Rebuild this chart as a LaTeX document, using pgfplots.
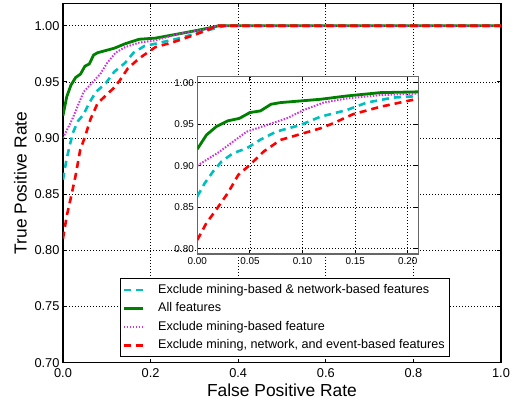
\documentclass[border=0pt]{standalone}
\usepackage{fontspec}
\setmainfont{Liberation Sans}
\usepackage{pgfplots}
\usepackage{pgfplotstable}
\pgfplotsset{compat=1.18}

\definecolor{mplgreen}{rgb}{0,0.5,0}
\definecolor{mplcyan}{rgb}{0,0.75,0.75}
\definecolor{mplmag}{rgb}{0.8,0.2,0.85}
\definecolor{mplred}{rgb}{1,0,0}

% ROC curves
\pgfplotstableread{
fpr tpr
0      0.863
0.0071 0.879
0.015  0.893
0.023  0.905
0.034  0.915
0.047  0.921
0.0595 0.931
0.075  0.941
0.098  0.949
0.117  0.959
0.142  0.967
0.161  0.976
0.186  0.982
0.211  0.984
0.267  0.989
0.328  0.9958
0.370  1.000
1.0    1.000
}\cyandata
\pgfplotstableread{
fpr tpr
0      0.920
0.0087 0.937
0.018  0.947
0.029  0.954
0.040  0.957
0.050  0.964
0.060  0.966
0.070  0.974
0.079  0.976
0.098  0.978
0.117  0.980
0.142  0.984
0.174  0.988
0.211  0.989
0.267  0.993
0.313  0.9964
0.343  0.9988
0.355  1.000
1.0    1.000
}\greendata
\pgfplotstableread{
fpr tpr
0      0.900
0.0087 0.907
0.0214 0.917
0.034  0.929
0.047  0.941
0.066  0.949
0.085  0.957
0.101  0.967
0.120  0.976
0.142  0.981
0.174  0.985
0.211  0.987
0.267  0.993
0.328  0.997
0.350  1.000
1.0    1.000
}\magdata
\pgfplotstableread{
fpr tpr
0      0.8105
0.0087 0.831
0.018  0.847
0.029  0.867
0.039  0.889
0.050  0.901
0.063  0.917
0.079  0.931
0.098  0.938
0.117  0.945
0.129  0.951
0.148  0.962
0.174  0.971
0.211  0.981
0.252  0.9854
0.297  0.9914
0.335  0.997
0.351  1.000
1.0    1.000
}\reddata

\pgfplotsset{
  rocstyle/.style={
    scale only axis,
    axis line style={line width=1.2pt},
    grid=major,
    major grid style={black, line width=0.8pt, dash pattern=on 1pt off 2pt},
    major tick length=4pt,
    every tick/.style={black, line width=1pt},
    /pgf/number format/assume math mode=true,
    legend image code/.code={\draw[#1] (0pt,0pt) -- (19pt,0pt);},
  },
  cyanline/.style={mplcyan, line width=2.6pt, dash pattern=on 7pt off 5pt},
  greenline/.style={mplgreen, line width=2.8pt},
  magline/.style={mplmag, line width=2pt, dash pattern=on 1.5pt off 1.5pt},
  redline/.style={mplred, line width=2.6pt, dash pattern=on 7pt off 5pt},
}

\begin{document}
\begin{tikzpicture}
\useasboundingbox (-63pt,-39.3pt) rectangle (454pt,362.7pt);
\begin{axis}[rocstyle,
  at={(0pt,0pt)}, anchor=south west,
  width=438pt, height=359.4pt,
  xmin=0, xmax=1, ymin=0.70, ymax=1.02,
  xtick={0,0.2,...,1.0},
  ytick={0.70,0.75,0.80,0.85,0.90,0.95,1.00},
  xticklabel style={font=\fontsize{12.8}{15}\selectfont, yshift=-2.5pt,
    /pgf/number format/fixed, /pgf/number format/fixed zerofill,
    /pgf/number format/precision=1},
  yticklabel style={font=\fontsize{12.8}{15}\selectfont,
    /pgf/number format/fixed, /pgf/number format/fixed zerofill,
    /pgf/number format/precision=2},
  xlabel={False Positive Rate},
  ylabel={True Positive Rate},
  xlabel style={font=\fontsize{17.4}{20}\selectfont, at={(axis description cs:0.5,-0.094)}, anchor=base},
  ylabel style={font=\fontsize{17.4}{20}\selectfont, at={(axis description cs:-0.083,0.5)}, anchor=base},
  legend style={at={(axis description cs:0.130,0.0159)}, anchor=south west,
    font=\fontsize{12.6}{15}\selectfont, draw=black, line width=0.8pt,
    inner xsep=2pt,
    nodes={text height=9.5pt, text depth=3pt, inner sep=3pt},
    /tikz/every odd column/.append style={column sep=11pt}},
  legend cell align=left,
]
\addplot[cyanline] table[x=fpr,y=tpr] {\cyandata};
\addlegendentry{Exclude mining-based \& network-based features}
\addplot[greenline] table[x=fpr,y=tpr] {\greendata};
\addlegendentry{All features}
\addplot[magline] table[x=fpr,y=tpr] {\magdata};
\addlegendentry{Exclude mining-based feature}
\addplot[redline] table[x=fpr,y=tpr] {\reddata};
\addlegendentry{Exclude mining, network, and event-based features}
\end{axis}

\begin{axis}[rocstyle,
  at={(134.3pt,108.7pt)}, anchor=south west,
  width=221pt, height=177.3pt,
  xmin=0, xmax=0.21, ymin=0.7936, ymax=1.0072,
  axis background/.style={fill=white},
  axis line style={line width=1.5pt, black!60},
  xtick={0,0.05,...,0.20},
  ytick={0.80,0.85,0.90,0.95,1.00},
  ticklabel style={font=\fontsize{9.9}{12}\selectfont,
    /pgf/number format/fixed, /pgf/number format/fixed zerofill,
    /pgf/number format/precision=2},
]
\addplot[cyanline] table[x=fpr,y=tpr] {\cyandata};
\addplot[greenline] table[x=fpr,y=tpr] {\greendata};
\addplot[magline] table[x=fpr,y=tpr] {\magdata};
\addplot[redline] table[x=fpr,y=tpr] {\reddata};
\end{axis}
\end{tikzpicture}
\end{document}
